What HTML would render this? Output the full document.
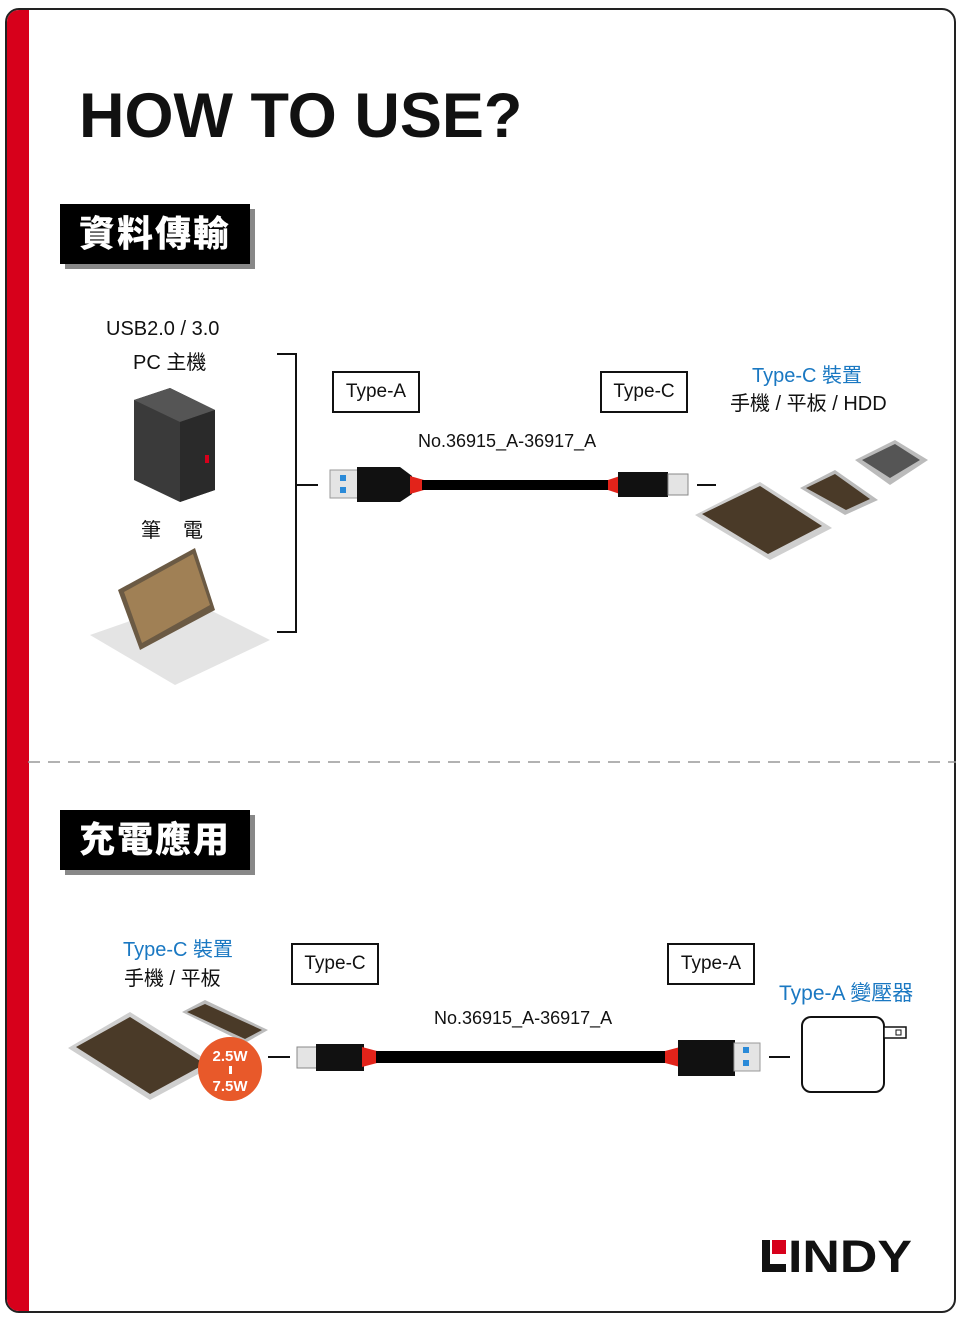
<!DOCTYPE html>
<html><head><meta charset="utf-8"><style>
*{margin:0;padding:0;box-sizing:border-box}
body{width:960px;height:1321px;background:#fff;position:relative;overflow:hidden;font-family:"Liberation Sans","Noto Sans CJK TC",sans-serif;color:#111}
.a{position:absolute;white-space:nowrap}
.frame{left:5px;top:8px;width:951px;height:1305px;border:2px solid #222;border-radius:14px;overflow:hidden}
.red{left:0;top:0;width:22px;height:100%;background:#d7001b;position:absolute}
.title{left:79px;top:80px;font-size:63px;font-weight:900;letter-spacing:0;color:#111}
.sec{width:190px;height:60px;background:#000;color:#fff;font-size:36px;font-weight:900;text-align:center;line-height:60px;box-shadow:5px 5px 0 #888;letter-spacing:2px}
.box{border:2px solid #111;height:42px;line-height:38px;font-size:19px;text-align:center;background:#fff}
.t{font-size:20px;color:#111}
.blue{color:#1a78c2}
</style></head><body>
<div class="a frame"><div class="red"></div></div>
<div class="a title">HOW TO USE?</div>
<div class="a sec" style="left:60px;top:204px">資料傳輸</div>
<div class="a sec" style="left:60px;top:810px">充電應用</div>

<div class="a t" style="left:106px;top:318px">USB2.0 / 3.0</div>
<div class="a t" style="left:133px;top:346px">PC 主機</div>
<div class="a t" style="left:141px;top:514px;letter-spacing:22px">筆電</div>

<div class="a box" style="left:332px;top:371px;width:88px">Type-A</div>
<div class="a box" style="left:600px;top:371px;width:88px">Type-C</div>
<div class="a t" style="left:418px;top:431px;font-size:18px">No.36915_A-36917_A</div>
<div class="a t blue" style="left:752px;top:359px">Type-C 裝置</div>
<div class="a t" style="left:730px;top:387px">手機 / 平板 / HDD</div>

<div class="a t blue" style="left:123px;top:933px">Type-C 裝置</div>
<div class="a t" style="left:124px;top:962px">手機 / 平板</div>
<div class="a box" style="left:291px;top:943px;width:88px">Type-C</div>
<div class="a box" style="left:667px;top:943px;width:88px">Type-A</div>
<div class="a t" style="left:434px;top:1008px;font-size:18px">No.36915_A-36917_A</div>
<div class="a t blue" style="left:779px;top:977px;font-size:21px">Type-A 變壓器</div>

<svg class="a" style="left:0;top:0" width="960" height="1321">
<line x1="28" y1="762" x2="956" y2="762" stroke="#999" stroke-width="1.5" stroke-dasharray="12,8"/>
<path d="M277 354H296V632H277M296 485H318" fill="none" stroke="#111" stroke-width="2"/>
<polygon points="134,400 170,388 215,410 215,490 180,502 134,480" fill="#3a3a3a"/>
<polygon points="134,400 170,388 215,410 180,422" fill="#555"/>
<polygon points="180,422 215,410 215,490 180,502" fill="#2a2a2a"/>
<rect x="205" y="455" width="4" height="8" fill="#d7001b"/>
<polygon points="90,635 190,600 270,640 175,685" fill="#e4e4e4"/>
<polygon points="118,590 195,548 215,610 140,650" fill="#6b5a44"/>
<polygon points="124,592 193,554 210,605 142,643" fill="#a08055"/>
<rect x="330" y="470" width="28" height="28" fill="#e4e4e4" stroke="#999"/>
<rect x="340" y="475" width="6" height="6" fill="#2a8ad8"/><rect x="340" y="487" width="6" height="6" fill="#2a8ad8"/>
<path d="M357 467H400L412 476V494L400 502H357Z" fill="#111"/>
<polygon points="410,476 424,480 424,490 410,494" fill="#e2231a"/>
<rect x="422" y="480" width="188" height="10" fill="#000"/>
<polygon points="620,476 608,480 608,490 620,494" fill="#e2231a"/>
<path d="M618 472H668V497H618Z" fill="#111"/>
<rect x="668" y="474" width="20" height="21" fill="#e4e4e4" stroke="#888"/>
<line x1="697" y1="485" x2="716" y2="485" stroke="#111" stroke-width="2"/>
<polygon points="695,515 760,482 832,528 770,560" fill="#cfcfcf"/>
<polygon points="702,514 760,486 822,526 768,554" fill="#4a3a28"/>
<polygon points="800,488 835,470 878,500 845,515" fill="#bbb"/>
<polygon points="806,488 835,474 870,499 846,510" fill="#4a3a28"/>
<polygon points="855,460 895,440 928,460 890,485" fill="#bbb"/>
<polygon points="862,460 895,444 920,460 890,478" fill="#555"/>
<polygon points="68,1048 130,1012 215,1065 150,1100" fill="#cfcfcf"/>
<polygon points="76,1047 130,1017 205,1064 150,1094" fill="#4a3a28"/>
<polygon points="182,1012 205,1000 268,1030 245,1043" fill="#bbb"/>
<polygon points="187,1012 205,1004 262,1030 245,1039" fill="#4a3a28"/>
<circle cx="230" cy="1069" r="32" fill="#e8592a"/>
<text x="230" y="1061" font-family="Liberation Sans" font-weight="bold" font-size="15" fill="#fff" text-anchor="middle">2.5W</text>
<rect x="229" y="1066" width="3" height="8" fill="#fff"/>
<text x="230" y="1091" font-family="Liberation Sans" font-weight="bold" font-size="15" fill="#fff" text-anchor="middle">7.5W</text>
<line x1="268" y1="1057" x2="290" y2="1057" stroke="#111" stroke-width="2"/>
<rect x="297" y="1047" width="20" height="21" fill="#e4e4e4" stroke="#888"/>
<path d="M316 1044H364V1071H316Z" fill="#111"/>
<polygon points="362,1047 377,1051 377,1063 362,1067" fill="#e2231a"/>
<rect x="376" y="1051" width="290" height="12" fill="#000"/>
<polygon points="680,1047 665,1051 665,1063 680,1067" fill="#e2231a"/>
<path d="M678 1040H735V1076H678Z" fill="#111"/>
<rect x="734" y="1043" width="26" height="28" fill="#e4e4e4" stroke="#999"/>
<rect x="743" y="1047" width="6" height="6" fill="#2a8ad8"/><rect x="743" y="1060" width="6" height="6" fill="#2a8ad8"/>
<line x1="769" y1="1057" x2="790" y2="1057" stroke="#111" stroke-width="2"/>
<rect x="802" y="1017" width="82" height="75" rx="9" fill="#fff" stroke="#111" stroke-width="2"/>
<rect x="884" y="1027" width="22" height="11" fill="#fff" stroke="#111" stroke-width="1.5"/>
<rect x="896" y="1030" width="5" height="5" fill="none" stroke="#111"/>
<rect x="762" y="1240" width="8" height="32" fill="#111"/>
<rect x="762" y="1264" width="24" height="8" fill="#111"/>
<rect x="772" y="1240" width="14" height="14" fill="#d7001b"/>
<text x="788" y="1272" font-family="Liberation Sans" font-weight="900" font-size="45" fill="#111" textLength="124" lengthAdjust="spacingAndGlyphs">INDY</text>
</svg>
</body></html>
